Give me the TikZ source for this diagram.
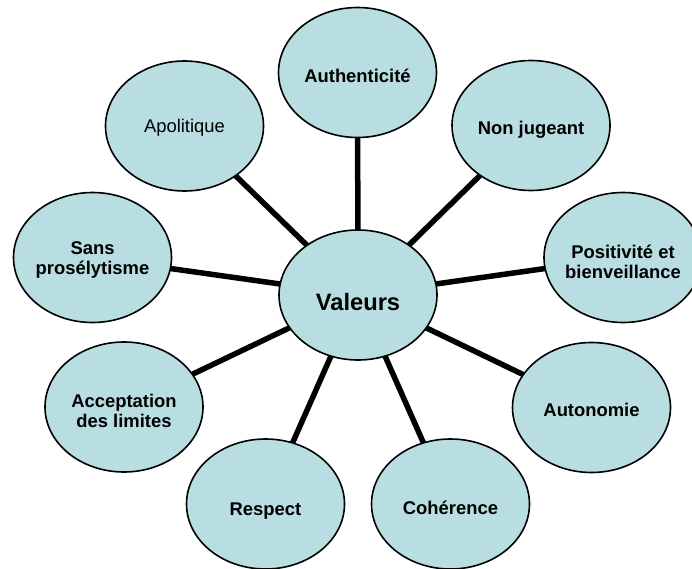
\documentclass[tikz,border=0pt]{standalone}
\usepackage{fontspec}
\setmainfont{Liberation Sans}
\usetikzlibrary{shapes.geometric,backgrounds}
\definecolor{bubble}{RGB}{184,222,226}
\newcommand{\lbl}[2]{\makebox[0pt]{\raisebox{-#1pt}{\begin{tabular}[t]{@{}c@{}}#2\end{tabular}}}}
\tikzset{
  bub/.style={ellipse, draw=black, line width=1.6pt, fill=bubble,
    minimum width=158pt, minimum height=130pt, inner sep=0pt,
    text height=0pt, text depth=0pt,
    font=\fontsize{18.4}{20}\selectfont\bfseries},
  spoke/.style={line width=5.5pt, draw=black}
}
\begin{document}
\begin{tikzpicture}[x=1pt,y=-1pt]
\useasboundingbox (0,0) rectangle (692,569);
\clip (0,0) rectangle (692,569);
\node[bub, font=\fontsize{23.7}{26}\selectfont\bfseries] (val) at (358,295) {\lbl{15.7}{Valeurs}};
\node[bub] (auth) at (357.5,72.5) {\lbl{10}{Authenticité}};
\node[bub] (nonj) at (531,125.5) {\lbl{9.5}{Non jugeant}};
\node[bub] (posi) at (623,257.5) {\lbl{1}{Positivité et\\bienveillance}};
\node[bub] (auto) at (591.5,407.5) {\lbl{9}{Autonomie}};
\node[bub] (cohe) at (450.5,504) {\lbl{10}{Cohérence}};
\node[bub] (resp) at (265.5,504) {\lbl{11}{Respect}};
\node[bub] (acce) at (124,407) {\lbl{0.7}{Acceptation\\des limites}};
\node[bub] (sans) at (92.5,257.5) {\lbl{-3.5}{Sans\\prosélytisme}};
\node[bub, font=\fontsize{18.4}{20}\selectfont\mdseries] (apo) at (184.5,126) {\lbl{7}{Apolitique}};
\begin{scope}[on background layer]
\foreach \t in {auth,nonj,posi,auto,cohe,resp,acce,sans,apo}
  \draw[spoke] (val.center) -- (\t.center);
\end{scope}
\end{tikzpicture}
\end{document}
